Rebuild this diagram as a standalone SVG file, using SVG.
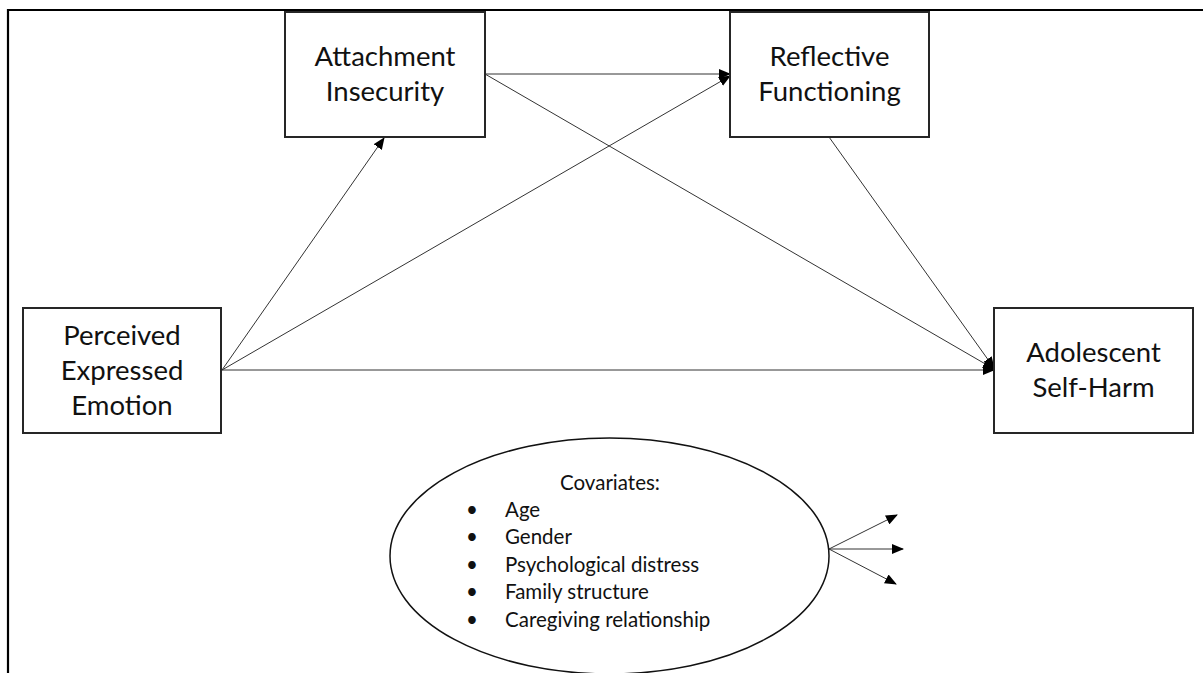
<svg xmlns="http://www.w3.org/2000/svg" width="1203" height="673" viewBox="0 0 1203 673">
<style>
.box{fill:#fff;stroke:#262626;stroke-width:2}
.lbl{font-family:Lato,"Liberation Sans",sans-serif;font-size:27.5px;fill:#111;text-anchor:middle}
.cov{font-family:Lato,"Liberation Sans",sans-serif;font-size:20.5px;fill:#111}
.ln{stroke:#333;stroke-width:1;fill:none}
</style>
<defs>
<marker id="ah" markerUnits="userSpaceOnUse" markerWidth="12" markerHeight="10" refX="11" refY="5" orient="auto">
<path d="M0,0 L12,5 L0,10 Z" fill="#000"/>
</marker>
</defs>
<rect width="1203" height="673" fill="#fff"/>
<g id="frame" stroke="#000" stroke-width="2.2" fill="none">
<path d="M8,673 V10 H1203"/>
</g>
<g id="connectors">
<line class="ln" x1="222" y1="370" x2="384" y2="138" marker-end="url(#ah)"/>
<line class="ln" x1="222" y1="370" x2="730" y2="76" marker-end="url(#ah)"/>
<line class="ln" x1="222" y1="370" x2="994" y2="370" marker-end="url(#ah)"/>
<line class="ln" x1="485" y1="74" x2="730" y2="74" marker-end="url(#ah)"/>
<line class="ln" x1="485" y1="74" x2="994" y2="369" marker-end="url(#ah)"/>
<line class="ln" x1="829" y1="137" x2="994" y2="368" marker-end="url(#ah)"/>
<line class="ln" x1="829" y1="549" x2="897" y2="515" marker-end="url(#ah)"/>
<line class="ln" x1="829" y1="549" x2="903" y2="549" marker-end="url(#ah)"/>
<line class="ln" x1="829" y1="549" x2="896" y2="584" marker-end="url(#ah)"/>
</g>
<g id="attachment">
<rect class="box" x="285" y="12" width="200" height="125"/>
<text class="lbl" x="385" y="66">Attachment</text>
<text class="lbl" x="385" y="101">Insecurity</text>
</g>
<g id="reflective">
<rect class="box" x="730" y="12" width="199" height="125"/>
<text class="lbl" x="829.5" y="66">Reflective</text>
<text class="lbl" x="829.5" y="101">Functioning</text>
</g>
<g id="perceived">
<rect class="box" x="23" y="308" width="198" height="125"/>
<text class="lbl" x="122" y="345">Perceived</text>
<text class="lbl" x="122" y="380">Expressed</text>
<text class="lbl" x="122" y="415">Emotion</text>
</g>
<g id="adolescent">
<rect class="box" x="994" y="308" width="199" height="125"/>
<text class="lbl" x="1093.5" y="362">Adolescent</text>
<text class="lbl" x="1093.5" y="397">Self-Harm</text>
</g>
<g id="covariates">
<ellipse cx="609.5" cy="556" rx="219.5" ry="118" fill="#fff" stroke="#111" stroke-width="1.5"/>
<text class="cov" x="610" y="490" text-anchor="middle">Covariates:</text>
<g class="cov">
<text x="466" y="517">•</text><text x="505" y="517">Age</text>
<text x="466" y="544">•</text><text x="505" y="544">Gender</text>
<text x="466" y="572">•</text><text x="505" y="572">Psychological distress</text>
<text x="466" y="599">•</text><text x="505" y="599">Family structure</text>
<text x="466" y="627">•</text><text x="505" y="627">Caregiving relationship</text>
</g>
</g>
</svg>
